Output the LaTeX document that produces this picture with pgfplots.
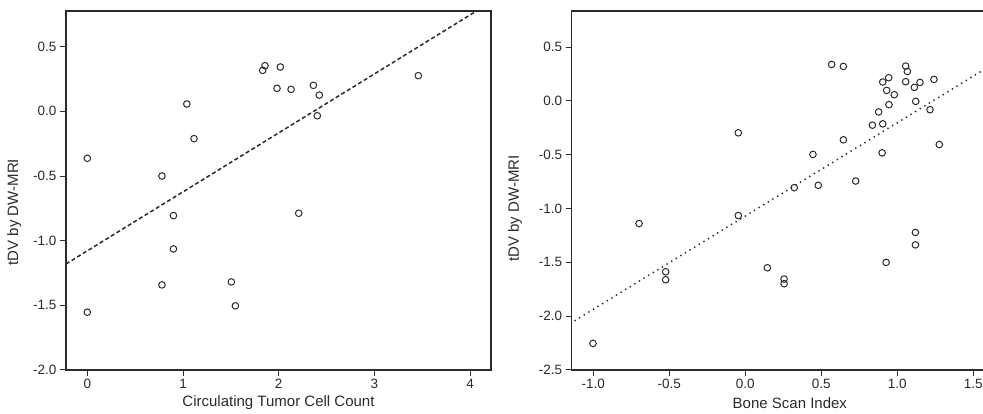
\documentclass[border=0pt]{standalone}
\usepackage{fontspec}
\setmainfont{Liberation Sans}
\usepackage{pgfplots}
\pgfplotsset{compat=1.18}
\definecolor{ink}{HTML}{2A2A2A}
\pgfplotsset{
  panel/.style={
    scale only axis, anchor=south west,
    axis line style={draw=ink, line width=1.1pt},
    tick style={draw=ink, line width=1pt},
    tick align=outside, major tick length=6pt,
    xtick pos=lower, ytick pos=left,
    ticklabel style={font=\fontsize{13.5}{15}\selectfont, text=ink},
    label style={font=\fontsize{15}{17}\selectfont, text=ink},
    xlabel style={at={(axis description cs:0.5,0)}, anchor=center, yshift=-33pt},
    clip=true,
  },
  pts/.style={only marks, mark=o, mark size=3.3pt, mark options={line width=1pt, draw=ink}},
}
\begin{document}
\begin{tikzpicture}
\path[use as bounding box] (0,0) rectangle (983pt,414pt);
% Left panel
\begin{axis}[panel,
  at={(66pt,44pt)}, width=425pt, height=359pt,
  xmin=-0.2226, xmax=4.218, ymin=-2.0, ymax=0.776,
  xtick={0,1,2,3,4}, xticklabels={0,1,2,3,4},
  ytick={0.5,0,-0.5,-1,-1.5,-2}, yticklabels={0.5,0.0,-0.5,-1.0,-1.5,-2.0},
  xlabel={Circulating Tumor Cell Count},
  ylabel={tDV by DW-MRI},
  ylabel style={at={(axis description cs:-0.122,0.44)}, anchor=center},
]
\addplot[draw=ink, line width=1.5pt, dash pattern=on 4pt off 2.6pt] coordinates {(-0.2226,-1.18) (4.218,0.845)};
\addplot[pts] table {
x y
0 -0.363
0 -1.553
0.78 -0.500
0.78 -1.342
0.90 -0.806
0.90 -1.064
1.04 0.057
1.115 -0.211
1.505 -1.319
1.547 -1.504
1.833 0.317
1.857 0.353
2.017 0.343
1.982 0.178
2.129 0.170
2.362 0.201
2.424 0.126
2.403 -0.034
2.209 -0.788
3.459 0.276
};
\end{axis}
% Right panel
\begin{axis}[panel,
  at={(571.7pt,44pt)}, width=436.3pt, height=359pt,
  xmin=-1.142, xmax=1.728, ymin=-2.5, ymax=0.836,
  xtick={-1,-0.5,0,0.5,1,1.5}, xticklabels={-1.0,-0.5,0.0,0.5,1.0,1.5},
  ytick={0.5,0,-0.5,-1,-1.5,-2,-2.5}, yticklabels={0.5,0.0,-0.5,-1.0,-1.5,-2.0,-2.5},
  xlabel={Bone Scan Index},
  ylabel={tDV by DW-MRI},
  ylabel style={at={(axis description cs:-0.13,0.45)}, anchor=center},
]
\addplot[draw=ink, line width=2pt, line cap=round, dash pattern=on 0pt off 5.4pt] coordinates {(-1.12,-2.04) (1.728,0.429)};
\addplot[pts] table {
x y
-1.002 -2.253
-0.699 -1.139
-0.524 -1.587
-0.524 -1.661
-0.046 -0.296
-0.046 -1.065
0.145 -1.550
0.255 -1.655
0.255 -1.698
0.322 -0.806
0.445 -0.497
0.480 -0.784
0.568 0.339
0.645 0.321
0.645 -0.361
0.726 -0.744
0.836 -0.225
0.877 -0.102
0.904 0.176
0.943 0.216
0.930 0.098
0.980 0.058
0.945 -0.034
0.904 -0.213
0.900 -0.482
0.926 -1.500
1.055 0.324
1.066 0.274
1.055 0.179
1.112 0.126
1.149 0.172
1.241 0.200
1.121 -0.004
1.215 -0.081
1.276 -0.405
1.119 -1.222
1.119 -1.337
};
\end{axis}
\end{tikzpicture}
\end{document}
